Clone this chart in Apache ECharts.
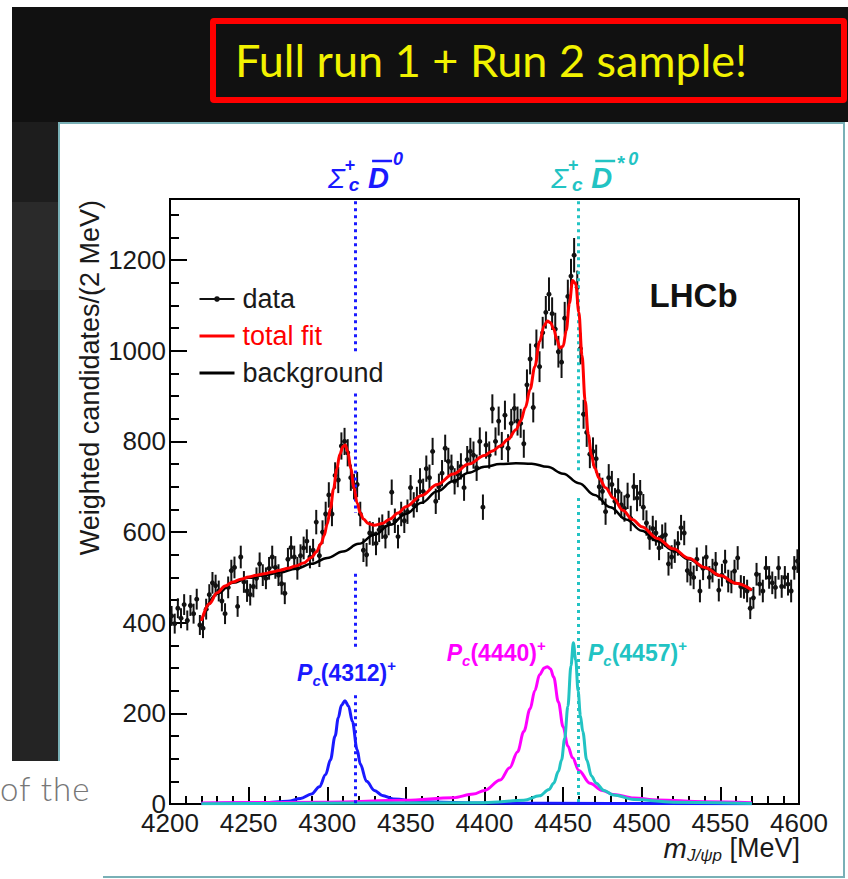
<!DOCTYPE html>
<html>
<head>
<meta charset="utf-8">
<script src="https://cdn.jsdelivr.net/npm/echarts@6.0.0/dist/echarts.min.js"></script>
<style>
html,body{margin:0;padding:0;width:848px;height:879px;overflow:hidden;background:#fff;}
#topband{position:absolute;left:12px;top:7px;width:836px;height:115px;background:#111;}
#leftcol{position:absolute;left:12px;top:122px;width:46px;height:639px;background:linear-gradient(#1d1d1d 0,#1d1d1d 80px,#2a2a2a 80px,#2a2a2a 168px,#242424 168px,#242424 100%);}
#redbox{position:absolute;left:210px;top:18px;width:625px;height:73px;border:6px solid #ff0000;border-radius:4px;background:#111;}
#redbox span{position:absolute;left:19px;top:0;line-height:73px;font-family:Lato,'Open Sans',sans-serif;font-size:45px;color:#f2f200;white-space:nowrap;}
#panel{position:absolute;left:58px;top:122px;width:783px;height:752px;border:2px solid #79b0b6;background:#fff;}
#cover{position:absolute;left:0;top:761px;width:103px;height:118px;background:#fff;}
#ofthe{position:absolute;left:0;top:768px;font-family:Lato,'Open Sans',sans-serif;font-weight:300;font-size:33px;letter-spacing:1px;color:#777;white-space:nowrap;}
#chart{position:absolute;left:0;top:0;width:848px;height:879px;}
</style>
</head>
<body>
<div id="topband"></div>
<div id="leftcol"></div>
<div id="redbox"><span>Full run 1 + Run 2 sample!</span></div>
<div id="panel"></div>
<div id="cover"></div>
<div id="ofthe">of the</div>
<div id="chart"></div>
<script>
// ---------------- DATA ----------------
// histogram: 2 MeV bins starting at 4200 MeV
const histStart = 4200;
const binWidth = 2;
const counts = [
  415, 398, 432, 410, 440, 405, 438, 420, 452, 395,
  388, 430, 462, 488, 482, 470, 448, 420, 478, 515,
  522, 436, 545, 490, 470, 462, 480, 498, 530, 505,
  498, 520, 545, 522, 505, 486, 465, 540, 566, 545,
  520, 548, 565, 580, 545, 560, 622, 548, 600, 640,
  682, 640, 725, 715, 790, 800, 775, 720, 700, 705,
  640, 560, 550, 598, 596, 575, 605, 612, 590, 620,
  688, 625, 590, 640, 625, 645, 698, 660, 672, 712,
  690, 740, 720, 778, 668, 700, 730, 785, 756, 742,
  712, 728, 745, 698, 760, 778, 770, 742, 800, 655,
  792, 770, 872, 800, 845, 790, 858, 785, 840, 873,
  845, 840, 795, 925, 982, 875, 1012, 965, 1040, 1085,
  1125, 1082, 1048, 998, 975, 1072, 1120, 1165, 1211, 1140,
  1005, 860, 820, 772, 778, 762, 700, 690, 645, 720,
  705, 668, 690, 660, 652, 680, 630, 700, 675, 686,
  655, 620, 588, 608, 598, 565, 590, 594, 530, 545,
  558, 575, 610, 598, 515, 508, 500, 540, 470, 520,
  545, 500, 515, 530, 472, 505, 535, 492, 490, 514,
  543, 480, 478, 470, 432, 455, 507, 485, 470, 521,
  500, 488, 478, 521, 480, 500, 485, 470, 521, 536
];
const errors = [
  22, 22, 22, 22, 23, 22, 23, 22, 23, 22,
  22, 23, 23, 24, 24, 23, 23, 23, 24, 24,
  24, 23, 25, 24, 24, 24, 24, 24, 25, 24,
  24, 25, 25, 25, 24, 24, 24, 25, 25, 25,
  25, 25, 25, 26, 25, 25, 27, 25, 26, 27,
  28, 27, 29, 29, 30, 30, 30, 29, 28, 28,
  27, 26, 26, 26, 26, 26, 27, 27, 26, 27,
  28, 27, 26, 27, 27, 27, 28, 28, 28, 29,
  28, 29, 29, 30, 28, 29, 29, 30, 30, 29,
  29, 29, 29, 29, 30, 30, 30, 29, 31, 28,
  30, 30, 32, 31, 32, 31, 32, 31, 32, 33,
  32, 32, 31, 34, 34, 33, 35, 34, 35, 36,
  37, 36, 36, 35, 35, 36, 37, 38, 38, 37,
  35, 32, 32, 31, 31, 31, 30, 30, 29, 30,
  30, 29, 29, 29, 29, 29, 28, 30, 29, 29,
  29, 28, 27, 28, 28, 27, 27, 27, 26, 26,
  26, 27, 28, 27, 26, 26, 26, 26, 25, 26,
  26, 25, 26, 26, 25, 25, 26, 25, 25, 25,
  26, 25, 25, 25, 24, 24, 25, 25, 25, 26,
  25, 25, 25, 26, 25, 25, 25, 25, 26, 26
];

const fitMass = [4220,4225,4230,4235,4240,4245,4250,4255,4260,4265,4270,4275,4280,4285,4290,
  4293,4296,4298,4300,4302,4304,4306,4308,4310,4311.5,4313,4315,4317,4319,4321,4323,4326,4330,
  4335,4340,4345,4350,4360,4370,4380,4390,4400,4405,4410,4415,4420,
  4423,4426,4429,4432,4435,4438,4440,4442,4444,4446,4448,4450,4452,4454,4456,4458,4460,4462,4464,4466,4468,4470,
  4473,4477,4482,4488,4494,4500,4510,4520,4530,4540,4550,4560,4570];
const fitTotal = [404,442,466,481,490,496,501,505,508,512,516,520,525,532,544,
  556,574,592,618,652,695,738,772,789,792,778,740,698,664,642,629,619,615,
  619,629,642,656,681,705,728,750,769,779,790,805,826,
  845,875,915,965,1020,1056,1066,1062,1048,1025,1006,1010,1045,1105,1155,1148,1085,990,890,815,770,742,
  718,698,675,648,628,612,586,563,542,522,504,487,472];

const bkgMass = [4220,4230,4240,4250,4260,4270,4280,4290,4300,4310,4320,4330,4340,4350,4360,4370,4380,4390,
  4400,4410,4420,4430,4440,4450,4460,4470,4480,4490,4500,4510,4520,4530,4540,4550,4560,4570];
const bkgValues = [404,464,488,499,505,511,519,530,543,557,574,594,616,640,665,690,712,731,
  744,750,752,751,744,729,708,682,655,628,603,580,560,540,521,503,487,471];

const pc4312Mass = [4220,4260,4275,4283,4290,4295,4299,4302,4305,4307,4309,4311.3,4313.5,4316,4319,4321,4325,4330,4335,4342,4360,4400,4480,4570];
const pc4312Values = [1,3,6,12,22,38,65,97,150,190,218,228,216,182,120,88,50,30,19,11,5,2,1,0.5];

const pc4440Mass = [4220,4300,4350,4380,4393,4400,4410,4416,4421,4425,4429,4432,4435,4438,4440,4442,4444,4447,4450,4453,4456,4460,4467,4475,4482,4495,4510,4540,4570];
const pc4440Values = [2,4,8,14,22,30,53,80,115,160,210,250,285,300,303,298,280,225,170,128,102,74,46,30,21,13,9,5,3];

const pc4457Mass = [4220,4400,4425,4435,4441,4444,4447,4449,4451,4453,4455,4456.5,4458,4459.5,4461,4462.5,4465,4468,4471,4476,4482,4495,4520,4570];
const pc4457Values = [0.5,3,8,18,32,46,72,97,145,215,305,356,318,250,195,160,97,62,46,30,20,10,4,1];

const thresholdMasses = [4317.7, 4459.6];
const seriesNames = ['data', 'total fit', 'background'];
const peakLabels = ['(4312)', '(4440)', '(4457)'];

// ---------------- CHART ----------------
const FONT = "'Liberation Sans', Arial, Helvetica, sans-serif";
const BLUE = '#1a1aff', CYAN = '#22c3c3', MAG = '#ff00ff', RED = '#ff0000';

const zip = (xs, ys) => xs.map((x, i) => [x, ys[i]]);
const dataPoints = counts.map((c, i) => [histStart + binWidth * (i + 0.5), c, errors[i]]);
const plain = v => String(v);

const chart = echarts.init(document.getElementById('chart'), null, {renderer: 'svg', width: 848, height: 879});

const tickStyle = {color: '#000', width: 2};
const option = {
  animation: false,
  backgroundColor: 'transparent',
  grid: {left: 170, right: 49, top: 199, bottom: 75, show: true, borderColor: '#000', borderWidth: 2,
         backgroundColor: 'transparent', outerBoundsMode: 'none', containLabel: false},
  xAxis: {
    type: 'value', min: 4200, max: 4600, interval: 50,
    axisLine: {show: true, onZero: false, lineStyle: tickStyle},
    axisTick: {show: true, inside: true, length: 17, lineStyle: tickStyle},
    minorTick: {show: true, splitNumber: 5, length: 8, lineStyle: tickStyle},
    axisLabel: {fontSize: 26, color: '#1a1a1a', fontFamily: FONT, margin: 6, formatter: plain},
    splitLine: {show: false}, minorSplitLine: {show: false}
  },
  yAxis: {
    type: 'value', min: 0, max: 1335, interval: 200,
    axisLine: {show: true, onZero: false, lineStyle: tickStyle},
    axisTick: {show: true, inside: true, length: 17, lineStyle: tickStyle},
    minorTick: {show: true, splitNumber: 4, length: 9, lineStyle: tickStyle},
    axisLabel: {fontSize: 26, color: '#1a1a1a', fontFamily: FONT, margin: 4, showMaxLabel: false, formatter: plain},
    splitLine: {show: false}, minorSplitLine: {show: false}
  },
  legend: {
    orient: 'vertical', left: 193, top: 279, itemWidth: 35, itemHeight: 7, itemGap: 7,
    selectedMode: false,
    textStyle: {fontSize: 27, fontFamily: FONT, color: '#1a1a1a', lineHeight: 30, padding: [0, 0, 0, 3]},
    data: [
      {name: seriesNames[0], lineStyle: {width: 2}},
      {name: seriesNames[1], textStyle: {color: RED}, itemStyle: {opacity: 0}, lineStyle: {width: 3}},
      {name: seriesNames[2], itemStyle: {opacity: 0}, lineStyle: {width: 3}}
    ]
  },
  series: [
    // legend representative for data
    {name: seriesNames[0], type: 'line', data: [], symbol: 'circle', symbolSize: 5,
     lineStyle: {color: '#111', width: 2}, itemStyle: {color: '#111'}},
    {name: 'Pc(4312)', type: 'line', data: zip(pc4312Mass, pc4312Values), smooth: 0.35, smoothMonotone: 'x',
     showSymbol: false, symbol: 'none', lineStyle: {color: BLUE, width: 3}, itemStyle: {color: BLUE}, z: 3,
     markLine: {silent: true, symbol: ['none', 'none'], label: {show: false},
       lineStyle: {color: BLUE, type: [3, 4], width: 3}, animation: false,
       data: [
         [{coord: [thresholdMasses[0], 1330]}, {coord: [thresholdMasses[0], 996]}],
         [{coord: [thresholdMasses[0], 906]}, {coord: [thresholdMasses[0], 642]}],
         [{coord: [thresholdMasses[0], 508]}, {coord: [thresholdMasses[0], 339]}],
         [{coord: [thresholdMasses[0], 240]}, {coord: [thresholdMasses[0], 0]}]
       ]}},
    {name: 'Pc(4440)', type: 'line', data: zip(pc4440Mass, pc4440Values), smooth: 0.35, smoothMonotone: 'x',
     showSymbol: false, symbol: 'none', lineStyle: {color: MAG, width: 3}, itemStyle: {color: MAG}, z: 3},
    {name: 'Pc(4457)', type: 'line', data: zip(pc4457Mass, pc4457Values), smooth: 0.35, smoothMonotone: 'x',
     showSymbol: false, symbol: 'none', lineStyle: {color: CYAN, width: 3}, itemStyle: {color: CYAN}, z: 3,
     markLine: {silent: true, symbol: ['none', 'none'], label: {show: false},
       lineStyle: {color: CYAN, type: [3, 4], width: 3}, animation: false,
       data: [
         [{coord: [thresholdMasses[1], 1330]}, {coord: [thresholdMasses[1], 728]}],
         [{coord: [thresholdMasses[1], 675]}, {coord: [thresholdMasses[1], 0]}]
       ]}},
    {name: seriesNames[0], type: 'custom', data: dataPoints, z: 4,
     encode: {x: 0, y: 1},
     renderItem: function (params, api) {
       const m = api.value(0), v = api.value(1), e = api.value(2);
       const c = api.coord([m, v]);
       const hi = api.coord([m, v + e]);
       const lo = api.coord([m, v - e]);
       return {type: 'group', children: [
         {type: 'line', shape: {x1: c[0], y1: hi[1], x2: c[0], y2: lo[1]}, style: {stroke: '#111', lineWidth: 2}},
         {type: 'circle', shape: {cx: c[0], cy: c[1], r: 2.5}, style: {fill: '#111'}}
       ]};
     }},
    {name: seriesNames[2], type: 'line', data: zip(bkgMass, bkgValues), smooth: 0.4, smoothMonotone: 'x',
     showSymbol: false, symbol: 'none', lineStyle: {color: '#000', width: 2.5}, itemStyle: {color: '#000'}, z: 5},
    {name: seriesNames[1], type: 'line', data: zip(fitMass, fitTotal), smooth: 0.35, smoothMonotone: 'x',
     showSymbol: false, symbol: 'none', lineStyle: {color: RED, width: 3}, itemStyle: {color: RED}, z: 6}
  ]
};
chart.setOption(option);

// ---------------- ANNOTATIONS ----------------
const px = m => chart.convertToPixel({xAxisIndex: 0}, m);
const py = v => chart.convertToPixel({yAxisIndex: 0}, v);

function txt(x, y, text, font, fill, align) {
  return {type: 'text', x: x, y: y, z: 50,
          style: {text: text, font: font, fill: fill, align: align || 'left', verticalAlign: 'middle'}};
}
function thresholdLabel(x0, color, star) {
  const els = [
    txt(x0 - 27, 178, 'Σ', 'italic 28px ' + FONT, color),
    txt(x0 - 5, 165, '+', 'bold 18px ' + FONT, color, 'center'),
    txt(x0 - 1, 184, 'c', 'italic bold 19px ' + FONT, color, 'center'),
    txt(x0 + 13, 178, 'D', 'italic bold 29px ' + FONT, color),
    {type: 'line', z: 50, shape: {x1: x0 + 17, y1: 161, x2: x0 + 37, y2: 161}, style: {stroke: color, lineWidth: 2.5}}
  ];
  if (star) {
    els.push(txt(x0 + 39, 163, '*', 'bold 20px ' + FONT, color));
    els.push(txt(x0 + 50, 159, '0', 'italic bold 18px ' + FONT, color));
  } else {
    els.push(txt(x0 + 38, 159, '0', 'italic bold 18px ' + FONT, color));
  }
  return els;
}
function pcLabel(x, y, num, color) {
  return {type: 'text', x: x, y: y, z: 50, style: {
    text: '{p|P}{c|c}{n|' + num + '}{s|+}', fill: color, align: 'left', verticalAlign: 'middle',
    rich: {
      p: {fontSize: 23, fontWeight: 'bold', fontStyle: 'italic', fontFamily: FONT, lineHeight: 30, fill: color},
      c: {fontSize: 15, fontWeight: 'bold', fontStyle: 'italic', fontFamily: FONT, lineHeight: 16, verticalAlign: 'bottom', fill: color},
      n: {fontSize: 23, fontWeight: 'bold', fontFamily: FONT, lineHeight: 30, fill: color},
      s: {fontSize: 15, fontWeight: 'bold', fontFamily: FONT, lineHeight: 16, verticalAlign: 'top', fill: color}
    }}};
}

const bx = px(thresholdMasses[0]);
const cx = px(thresholdMasses[1]);
const graphics = []
  .concat(thresholdLabel(bx, BLUE, false))
  .concat(thresholdLabel(cx, CYAN, true))
  .concat([
    pcLabel(px(4280.8), py(290), peakLabels[0], BLUE),
    pcLabel(px(4376), py(334), peakLabels[1], MAG),
    pcLabel(px(4465.8), py(334), peakLabels[2], CYAN),
    txt(px(4505), py(1123), 'LHCb', 'bold 33px ' + FONT, '#111'),
    {type: 'text', x: 90, y: 200, rotation: Math.PI / 2, z: 50,
     style: {text: 'Weighted candidates/(2 MeV)', font: '27px ' + FONT, fill: '#1a1a1a', align: 'right', verticalAlign: 'middle'}},
    {type: 'text', x: 800, y: 848, z: 50, style: {
      text: '{m|m}{s|J/ψp}{u| [MeV]}', fill: '#1a1a1a', align: 'right', verticalAlign: 'middle',
      rich: {
        m: {fontSize: 28, fontStyle: 'italic', fontFamily: FONT, lineHeight: 32, fill: '#1a1a1a'},
        s: {fontSize: 17, fontStyle: 'italic', fontFamily: FONT, lineHeight: 18, verticalAlign: 'bottom', fill: '#1a1a1a'},
        u: {fontSize: 27, fontFamily: FONT, lineHeight: 32, fill: '#1a1a1a'}
      }}}
  ]);
chart.setOption({graphic: graphics});
</script>
</body>
</html>
